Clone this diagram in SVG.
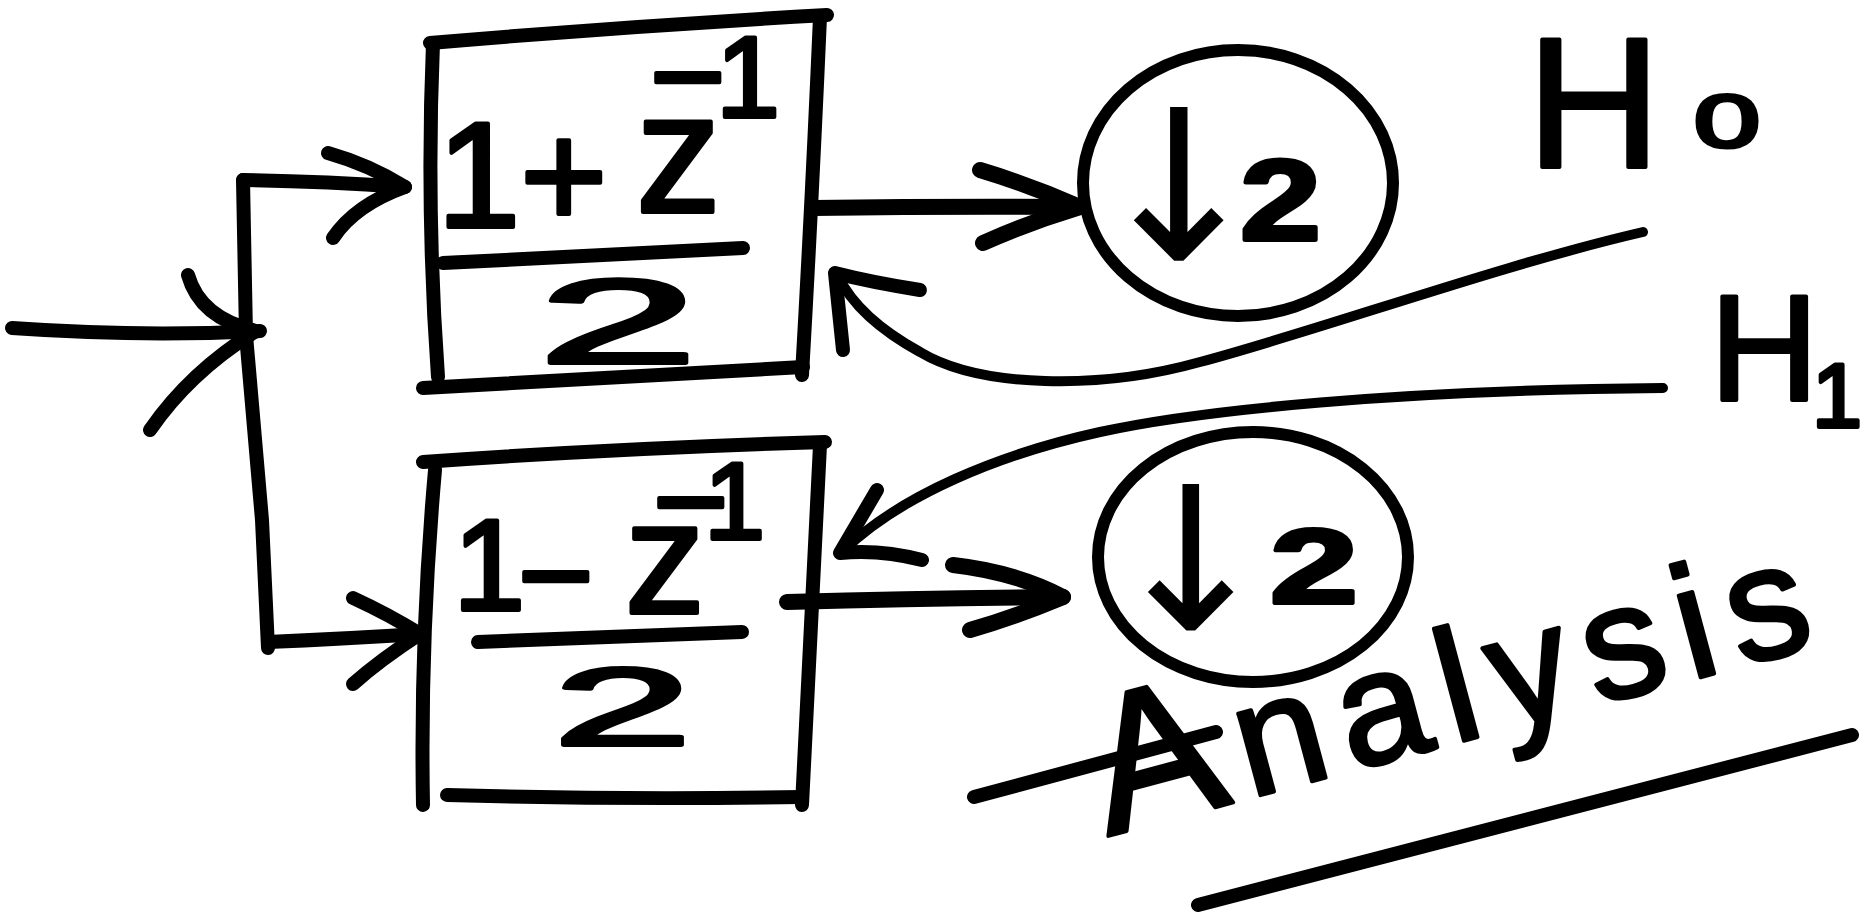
<svg xmlns="http://www.w3.org/2000/svg" width="1876" height="920" viewBox="0 0 1876 920">
<style>
.s{fill:none;stroke:#000;stroke-linecap:round;stroke-linejoin:round}
.w16{stroke-width:16}
.w14{stroke-width:14}
.w12{stroke-width:12}
.w10{stroke-width:10}
.t{font-family:"Liberation Sans",Arial,sans-serif;fill:#000;stroke:#000;stroke-width:4;stroke-linejoin:round}
.a{font-family:"DejaVu Sans",sans-serif;fill:#000}
</style>
<rect width="1876" height="920" fill="#fff"/>
<g id="connectors">
  <path class="s w14" d="M12,328 Q140,337 260,331"/>
  <path class="s w14" d="M188,275 Q200,318 256,331 Q190,372 150,430"/>
  <path class="s w14" d="M243,180 L246,335 L262,520 L268,648"/>
  <path class="s w14" d="M243,180 Q320,181 405,187"/>
  <path class="s w14" d="M328,153 Q370,165 405,187 Q355,205 333,238"/>
  <path class="s w14" d="M268,642 Q340,639 420,634"/>
  <path class="s w14" d="M353,598 Q390,615 420,634 Q380,660 353,684"/>
  <path class="s w16" d="M813,208 Q950,206 1080,207"/>
  <path class="s w16" d="M980,170 Q1030,185 1080,207 Q1030,222 983,243"/>
  <path class="s w10" d="M1643,232 C1500,265 1320,330 1200,362 C1100,390 980,388 920,352 C880,330 852,305 838,276"/>
  <path class="s w14" d="M920,290 Q870,282 835,273 L843,350"/>
  <path class="s w10" d="M1663,388 C1400,390 1200,410 1100,432 C1000,454 900,495 842,552"/>
  <path class="s w14" d="M877,490 L840,553 Q880,549 922,560"/>
  <path class="s w16" d="M787,602 Q930,598 1063,597"/>
  <path class="s w16" d="M953,565 Q1015,572 1063,597 Q1015,617 970,630"/>
</g>
<g id="box-top">
  <path class="s w14" d="M430,43 Q630,26 827,15"/>
  <path class="s w14" d="M433,43 Q426,210 438,377"/>
  <path class="s w14" d="M820,17 Q812,200 802,375"/>
  <path class="s w14" d="M423,388 Q610,378 803,367"/>
  <text class="t"><tspan x="437" y="227" font-size="150">1</tspan><tspan x="520" y="227" font-size="150">+</tspan><tspan x="636" y="212" font-size="170">z</tspan><tspan x="650" y="121" font-size="130">−</tspan><tspan x="716" y="117" font-size="115">1</tspan></text>
  <path class="s w14" d="M443,263 L743,248"/>
  <text class="t" x="538" y="363" font-size="120" textLength="160" lengthAdjust="spacingAndGlyphs">2</text>
</g>
<g id="box-bottom">
  <path class="s w14" d="M423,462 Q620,448 825,442"/>
  <path class="s w14" d="M435,470 Q420,640 423,805"/>
  <path class="s w14" d="M820,445 Q812,620 802,805"/>
  <path class="s w14" d="M447,795 Q620,800 802,797"/>
  <text class="t"><tspan x="453" y="610" font-size="130">1</tspan><tspan x="518" y="620" font-size="130">−</tspan><tspan x="625" y="613" font-size="160">z</tspan><tspan x="653" y="546" font-size="130">−</tspan><tspan x="704" y="539" font-size="110">1</tspan></text>
  <path class="s w14" d="M478,642 L742,632"/>
  <text class="t" x="553" y="745" font-size="110" textLength="139" lengthAdjust="spacingAndGlyphs">2</text>
</g>
<g id="down-top">
  <ellipse class="s w12" cx="1238" cy="183" rx="155" ry="133"/>
  <text><tspan class="a" x="1091" y="260" font-size="210">↓</tspan><tspan class="t" x="1240" y="240" font-size="115" font-weight="bold" textLength="81" lengthAdjust="spacingAndGlyphs">2</tspan></text>
</g>
<g id="down-bottom">
  <ellipse class="s w12" cx="1253" cy="557" rx="155" ry="125"/>
  <text><tspan class="a" x="1107" y="630" font-size="200">↓</tspan><tspan class="t" x="1270" y="603" font-size="106" font-weight="bold" textLength="88" lengthAdjust="spacingAndGlyphs">2</tspan></text>
</g>
<g id="label-H0">
  <text class="t"><tspan x="1527" y="167" font-size="185">H</tspan><tspan x="1694" y="147" font-size="75" textLength="66" lengthAdjust="spacingAndGlyphs">0</tspan></text>
</g>
<g id="label-H1">
  <text class="t"><tspan x="1710" y="400" font-size="150">H</tspan><tspan x="1812" y="427" font-size="90">1</tspan></text>
</g>
<g id="label-analysis">
  <path class="s w14" d="M974,797 L1216,732"/>
  <text class="t" transform="translate(1108,836) rotate(-15)" font-size="160" textLength="735" lengthAdjust="spacing"><tspan font-size="195">A</tspan>nalysis</text>
  <path class="s w14" d="M1198,905 L1852,735"/>
</g>
</svg>
